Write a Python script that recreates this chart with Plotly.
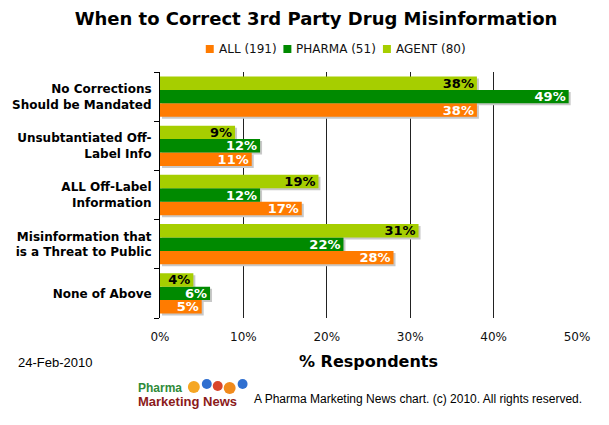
import plotly.graph_objects as go

categories = [
    "No Corrections<br>Should be Mandated",
    "Unsubtantiated Off-<br>Label Info",
    "ALL Off-Label<br>Information",
    "Misinformation that<br>is a Threat to Public",
    "None of Above",
]
series_names = ["ALL (191)", "PHARMA (51)", "AGENT (80)"]
all_vals = [38, 11, 17, 28, 5]
pharma_vals = [49, 12, 12, 22, 6]
agent_vals = [38, 9, 19, 31, 4]
x_ticks = [0, 10, 20, 30, 40, 50]
x_tick_labels = ["0%", "10%", "20%", "30%", "40%", "50%"]

colors = ["#FF7B00", "#008A00", "#A6CE00"]
text_colors = ["white", "white", "black"]
values = [all_vals, pharma_vals, agent_vals]

W, H = 609, 425
L, R, T, B = 158, 32, 72, 107
PW, PH = W - L - R, H - T - B
X_MAX = 50
SHADOW_PX = 2


def px(x):
    return (x - L) / PW


def py(y):
    return 1 - (y - T) / PH


fig = go.Figure()
# soft drop shadows (same data, drawn on a 2px-offset axis pair underneath)
for name, vals in zip(series_names, values):
    fig.add_trace(go.Bar(
        y=categories, x=vals, orientation="h", xaxis="x", yaxis="y",
        marker=dict(color="#C8C8C8", line=dict(width=0)),
        hoverinfo="skip", showlegend=False,
    ))
for name, vals, col, tcol in zip(series_names, values, colors, text_colors):
    fig.add_trace(go.Bar(
        y=categories, x=vals, name=name, orientation="h", xaxis="x2", yaxis="y2",
        marker=dict(color=col, line=dict(width=0)),
        text=[f"{v}%" for v in vals],
        textposition="inside", insidetextanchor="end",
        constraintext="none",
        textfont=dict(family="DejaVu Sans", size=13, color=tcol, weight="bold"),
        hoverinfo="skip", showlegend=False,
    ))

dx = SHADOW_PX * X_MAX / PW
dy = SHADOW_PX * len(categories) / PH

fig.update_layout(
    width=W, height=H,
    margin=dict(l=L, r=R, t=T, b=B),
    paper_bgcolor="white", plot_bgcolor="white",
    barmode="group", bargap=0.18, bargroupgap=0,
    title=dict(text="<b>When to Correct 3rd Party Drug Misinformation</b>",
               x=316 / W, y=1 - 19 / H, xanchor="center", yanchor="middle",
               font=dict(family="DejaVu Sans", size=18, color="black")),
    showlegend=False,
    font=dict(family="DejaVu Sans", color="black"),
    xaxis=dict(range=[-dx, X_MAX - dx], visible=False, showgrid=False, zeroline=False),
    yaxis=dict(type="category", categoryorder="array", categoryarray=categories[::-1],
               range=[-0.5 + dy, len(categories) - 0.5 + dy],
               visible=False, showgrid=False, zeroline=False),
    xaxis2=dict(
        overlaying="x", anchor="y2", side="bottom",
        range=[0, X_MAX], tickvals=x_ticks, ticktext=x_tick_labels,
        showgrid=True, gridcolor="#222222", gridwidth=1,
        zeroline=False, showline=False, ticks="", ticklabelstandoff=10,
        tickfont=dict(family="DejaVu Sans", size=12, color="#111"),
        title=dict(text="<b>% Respondents</b>", standoff=12,
                   font=dict(family="DejaVu Sans", size=16, color="black")),
    ),
    yaxis2=dict(
        overlaying="y", anchor="x2", side="left", type="category",
        categoryorder="array", categoryarray=categories[::-1],
        range=[-0.5, len(categories) - 0.5],
        showline=True, linecolor="black", linewidth=1,
        ticks="outside", ticklen=5, tickcolor="black", tickson="boundaries",
        ticklabelstandoff=5,
        showgrid=False, zeroline=False,
        tickfont=dict(family="DejaVu Sans", size=12, color="black", weight="bold"),
    ),
)

# compact legend (swatch + label), laid out like the original
legend_swatch_x = [204, 282, 382]
for name, col, sx in zip(series_names, colors, legend_swatch_x):
    fig.add_shape(type="rect", xref="paper", yref="paper",
                  x0=px(sx), x1=px(sx + 8), y0=py(53), y1=py(45),
                  fillcolor=col, line=dict(width=0))
    fig.add_annotation(text=name, xref="paper", yref="paper",
                       x=px(sx + 11), y=py(49), xanchor="left", yanchor="middle",
                       showarrow=False,
                       font=dict(family="DejaVu Sans", size=12, color="#111"))

# date and footer
fig.add_annotation(text="24-Feb-2010", xref="paper", yref="paper",
                   x=px(13), y=py(362), xanchor="left", yanchor="middle",
                   showarrow=False, font=dict(family="Liberation Sans", size=13, color="black"))
fig.add_annotation(text="A Pharma Marketing News chart. (c) 2010. All rights reserved.",
                   xref="paper", yref="paper", x=px(250), y=py(399),
                   xanchor="left", yanchor="middle", showarrow=False,
                   font=dict(family="Liberation Sans", size=12, color="black"))
balls = [(192, 387, 6, "#F5A623"), (205, 384, 5, "#2F6FD0"), (216, 386, 5, "#D9452B"),
         (228, 388, 6, "#F08A1C"), (241, 384, 5, "#2F6FD0")]
for bx, by, br, bc in balls:
    fig.add_shape(type="circle", xref="paper", yref="paper",
                  x0=px(bx - br), x1=px(bx + br),
                  y0=py(by + br), y1=py(by - br),
                  fillcolor=bc, line=dict(width=0), layer="below")
fig.add_annotation(
    text="<b><span style='color:#2E8B3A;font-size:12px'>Pharma</span><br>"
         "<span style='color:#8B1A1A;font-size:13px'>Marketing News</span></b>",
    xref="paper", yref="paper", x=px(134), y=py(395), xanchor="left", yanchor="middle",
    align="left", showarrow=False,
    font=dict(family="Liberation Sans", size=11, color="#8B1A1A"))

fig.write_html("out.html", config={"displayModeBar": False},
               post_script="document.body.style.margin='0';")
